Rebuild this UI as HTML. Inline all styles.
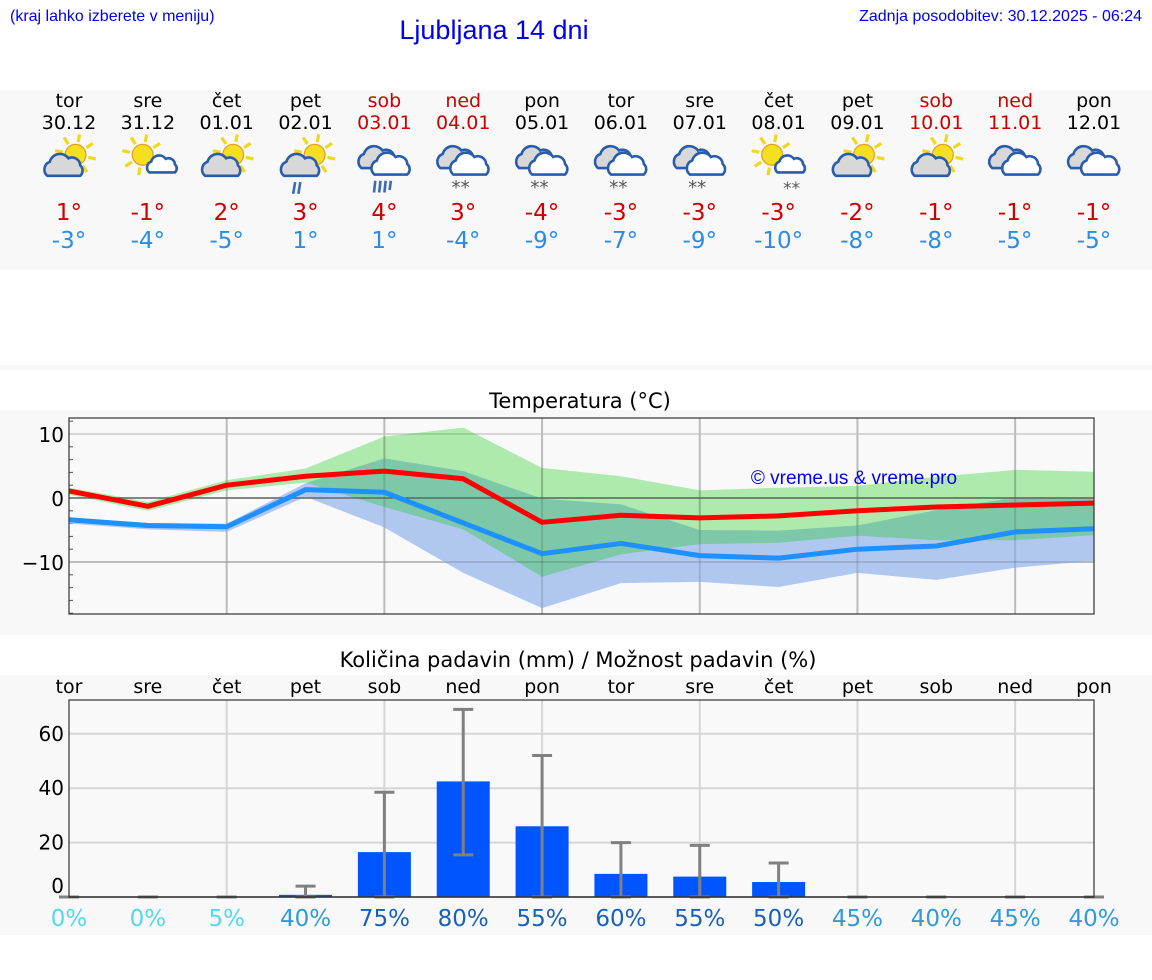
<!DOCTYPE html>
<html><head><meta charset="utf-8">
<style>
body{margin:0;width:1152px;height:975px;background:#fff;font-family:"Liberation Sans","DejaVu Sans",sans-serif;overflow:hidden}
svg text{font-family:"DejaVu Sans","Liberation Sans",sans-serif}
</style></head>
<body>
<svg id="s" width="1152" height="975" xmlns="http://www.w3.org/2000/svg">
<rect x="0" y="90" width="1152" height="180" fill="#f8f8f8"/>
<rect x="0" y="365" width="1152" height="5" fill="#f8f8f8"/>
<rect x="0" y="410" width="1152" height="225" fill="#f8f8f8"/>
<rect x="0" y="675" width="1152" height="260" fill="#f8f8f8"/>
<text x="10" y="21" font-size="16" fill="#0000ee" style="font-family:'Liberation Sans',sans-serif">(kraj lahko izberete v meniju)</text>
<text x="494" y="39" font-size="27" fill="#0000ee" text-anchor="middle" style="font-family:'Liberation Sans',sans-serif">Ljubljana 14 dni</text>
<text x="1142" y="21" font-size="16" fill="#0000ee" text-anchor="end" style="font-family:'Liberation Sans',sans-serif">Zadnja posodobitev: 30.12.2025 - 06:24</text>
<text x="580" y="408" font-size="21" text-anchor="middle">Temperatura (°C)</text>
<text x="578" y="667" font-size="21" text-anchor="middle">Količina padavin (mm) / Možnost padavin (%)</text>
<g id="g"></g>
</svg>
<script>
const days=["tor","sre","čet","pet","sob","ned","pon","tor","sre","čet","pet","sob","ned","pon"];
const dates=["30.12","31.12","01.01","02.01","03.01","04.01","05.01","06.01","07.01","08.01","09.01","10.01","11.01","12.01"];
const icons=["A","B","A","C","D","E","E","E","E","G","A","A","F","F"];
const tmax=[1,-1,2,3,4,3,-4,-3,-3,-3,-2,-1,-1,-1];
const tmin=[-3,-4,-5,1,1,-4,-9,-7,-9,-10,-8,-8,-5,-5];
const maxLine=[1.1,-1.3,2,3.4,4.2,3,-3.8,-2.7,-3.1,-2.8,-2,-1.4,-1.1,-0.8];
const minLine=[-3.4,-4.3,-4.5,1.3,0.9,-3.9,-8.7,-7.1,-9,-9.4,-8,-7.5,-5.3,-4.8];
const maxBandHi=[1.6,-0.6,2.8,4.6,9.6,11,4.7,3.4,1.2,1.6,1.9,3.3,4.4,4.1];
const maxBandLo=[0.5,-2,1.2,2.4,-1.4,-4.9,-12.3,-8.8,-7.2,-7,-5.9,-6.6,-6.6,-5.8];
const minBandHi=[-3,-3.9,-4,2.3,6.2,4.2,-0.1,-1,-5,-5.1,-4.3,-1.9,0.1,0.1];
const minBandLo=[-4,-4.9,-5.3,0.2,-4.6,-11.7,-17.2,-13.3,-13.1,-13.9,-11.7,-12.8,-10.9,-9.8];
const precip=[0,0,0,0.8,16.5,42.5,26,8.5,7.5,5.5,0,0,0,0];
const errLo=[0,0,0,0,0,15.5,0,0,0,0,0,0,0,0];
const errHi=[0,0,0,4,38.5,69,52,20,19,12.5,0,0,0,0];
const chance=[0,0,5,40,75,80,55,60,55,50,45,40,45,40];
const tTicks=[10,0,-10];
const pTicks=[60,40,20,0];

const NS="http://www.w3.org/2000/svg";const G=document.getElementById("g");
function el(t,a,p){const e=document.createElementNS(NS,t);for(const k in a)e.setAttribute(k,a[k]);(p||G).appendChild(e);return e;}
const X0=69,X1=1094;
const xd=i=>X0+(X1-X0)*i/13;
const yT=v=>498-6.4*v;
const yP=v=>897-2.72*v;
const red=i=>(i==4||i==5||i==11||i==12)?"#cc0000":"#000";

days.forEach((d,i)=>{
 const cx=xd(i);
 let t=el("text",{x:cx,y:107,"font-size":19,"text-anchor":"middle",fill:red(i)});t.textContent=d;
 
 t=el("text",{x:cx,y:129,"font-size":19,"text-anchor":"middle",fill:red(i)});t.textContent=dates[i];
 
 t=el("text",{x:cx,y:220,"font-size":23,"text-anchor":"middle",fill:"#cc0000"});t.textContent=tmax[i]+"°";
 
 t=el("text",{x:cx,y:248,"font-size":23,"text-anchor":"middle",fill:"#2a8ce8"});t.textContent=tmin[i]+"°";
 
 const g=el("g",{transform:`translate(${cx},160) scale(1.3)`});
 
 drawIcon(g,icons[i]);
});
function sun(g,x,y,r){
 for(let k=0;k<8;k++){const a=k*Math.PI/4+0.2;el("line",{x1:x+Math.cos(a)*(r+2),y1:y+Math.sin(a)*(r+2),x2:x+Math.cos(a)*(r+8),y2:y+Math.sin(a)*(r+8),stroke:"#f0d820","stroke-width":2.5},g);}
 el("circle",{cx:x,cy:y,r:r,fill:"#f4e020",stroke:"#e8a020","stroke-width":1},g);
}
function cloud(g,x,y,s,fill){
 el("path",{d:`M${x-14*s},${y+8*s} a${7*s} ${7*s} 0 0 1 ${2*s},${-12*s} a${9*s} ${9*s} 0 0 1 ${16*s},${-3*s} a${7*s} ${7*s} 0 0 1 ${10*s},${6*s} a${6*s} ${6*s} 0 0 1 0,${9*s} z`,fill:fill,stroke:"#2a5cae","stroke-width":2},g);
}
function drawIcon(g,t){
 if(t=="A"){sun(g,5,-4,8);cloud(g,-4,5,0.9,"#d8d8d8");}
 if(t=="B"){sun(g,-4,-4,8);cloud(g,11,4,0.7,"#fff");}
 if(t=="C"){sun(g,7,-4,8);cloud(g,-4,5,0.9,"#d8d8d8");el("path",{d:"M-8,17 l-1.5,9 M-4,17 l-1.5,9",stroke:"#3a6ab8","stroke-width":2},g);}
 if(t=="D"||t=="E"||t=="F"){cloud(g,-5,-1,0.9,"#d8d8d8");cloud(g,5,4,0.9,"#fff");}
 if(t=="D"){el("path",{d:"M-7,16 l-1,9 M-3,16 l-1,9 M1,16 l-1,9 M5,16 l-1,7",stroke:"#3a6ab8","stroke-width":2},g);}
 if(t=="E"){const s=el("text",{x:-2,y:26,"font-size":14,fill:"#555","text-anchor":"middle"},g);s.textContent="**";}
 if(t=="G"){sun(g,-5,-4,8);cloud(g,9,4,0.7,"#fff");const s=el("text",{x:10,y:26,"font-size":13,fill:"#555","text-anchor":"middle"},g);s.textContent="**";}
}

const TY0=418,TY1=614;
el("rect",{x:X0,y:TY0,width:X1-X0,height:TY1-TY0,fill:"#f9f9f9"});
for(let v=-18;v<=12;v+=2){el("line",{x1:X0,x2:X0+4,y1:yT(v),y2:yT(v),stroke:"#555","stroke-width":1});}
tTicks.forEach(v=>{
 el("line",{x1:X0,x2:X1,y1:yT(v),y2:yT(v),stroke:"#d6d6d6","stroke-width":2});
 const t=el("text",{x:X0-5,y:yT(v)+8,"font-size":20,"text-anchor":"end"});t.textContent=v<0?"−"+(-v):v;
 
});
for(let i=2;i<13;i+=2)el("line",{x1:xd(i),x2:xd(i),y1:TY0,y2:TY1,stroke:"#d6d6d6","stroke-width":2});
function band(hi,lo,fill,op,name){
 let d="M"+hi.map((v,i)=>xd(i)+","+yT(v)).join(" L")+" L"+lo.map((v,i)=>xd(i)+","+yT(v)).reverse().join(" L")+"Z";
 const p=el("path",{d:d,fill:fill,"fill-opacity":op});
 
}
band(minBandHi,minBandLo,"#b0c8f0",1,"min-temp-band");
band(maxBandHi,maxBandLo,"#10cb10",0.32,"max-temp-band");
for(let i=2;i<13;i+=2)el("line",{x1:xd(i),x2:xd(i),y1:TY0,y2:TY1,stroke:"#000","stroke-opacity":0.12,"stroke-width":2});
el("line",{x1:X0,x2:X1,y1:yT(0),y2:yT(0),stroke:"#555","stroke-width":1.2});
el("line",{x1:X0,x2:X1,y1:yT(-10),y2:yT(-10),stroke:"#000","stroke-opacity":0.12,"stroke-width":2});
function line(arr,c,name){
 const p=el("polyline",{points:arr.map((v,i)=>xd(i)+","+yT(v)).join(" "),fill:"none",stroke:c,"stroke-width":5,"stroke-linejoin":"round"});
 
}
line(minLine,"#1e90ff","min-temp-line");
line(maxLine,"#ff0000","max-temp-line");
el("rect",{x:X0,y:TY0,width:X1-X0,height:TY1-TY0,fill:"none",stroke:"#333","stroke-width":1.2});
{const t=el("text",{x:854,y:484,"font-size":19,"text-anchor":"middle",fill:"#0000ee",style:"font-family:'Liberation Sans',sans-serif"});t.textContent="© vreme.us & vreme.pro";
}

const PY0=700,PY1=897;
el("rect",{x:X0,y:PY0,width:X1-X0,height:PY1-PY0,fill:"#f9f9f9"});
pTicks.forEach(v=>{
 if(v>0)el("line",{x1:X0,x2:X1,y1:yP(v),y2:yP(v),stroke:"#d6d6d6","stroke-width":2});
 const t=el("text",{x:X0-5,y:yP(v)+(v==0?-4:7),"font-size":20,"text-anchor":"end"});t.textContent=v;
 
});
for(let i=2;i<13;i+=2)el("line",{x1:xd(i),x2:xd(i),y1:PY0,y2:PY1,stroke:"#d6d6d6","stroke-width":2});
const pc=v=>v<=5?"#55d8ec":v<=45?"#2f9ad8":"#1a60b8";
days.forEach((d,i)=>{
 const cx=xd(i);
 let t=el("text",{x:cx,y:693,"font-size":19,"text-anchor":"middle"});t.textContent=d;
 
 if(precip[i]>0){const b=el("rect",{x:cx-26.5,y:yP(precip[i]),width:53,height:yP(0)-yP(precip[i]),fill:"#0055ff"});
  }
 const e=el("path",{d:`M${cx},${yP(errLo[i])} L${cx},${yP(errHi[i])} M${cx-10},${yP(errHi[i])} L${cx+10},${yP(errHi[i])} M${cx-10},${yP(errLo[i])} L${cx+10},${yP(errLo[i])}`,stroke:"#808080","stroke-width":3,fill:"none"});
 
 t=el("text",{x:cx,y:926,"font-size":23,"text-anchor":"middle",fill:pc(chance[i])});t.textContent=chance[i]+"%";
 
});
el("line",{x1:X0,x2:X1,y1:PY1,y2:PY1,stroke:"#333","stroke-width":1.5});
el("rect",{x:X0,y:PY0,width:X1-X0,height:PY1-PY0,fill:"none",stroke:"#333","stroke-width":1.2});
</script>
</body></html>
